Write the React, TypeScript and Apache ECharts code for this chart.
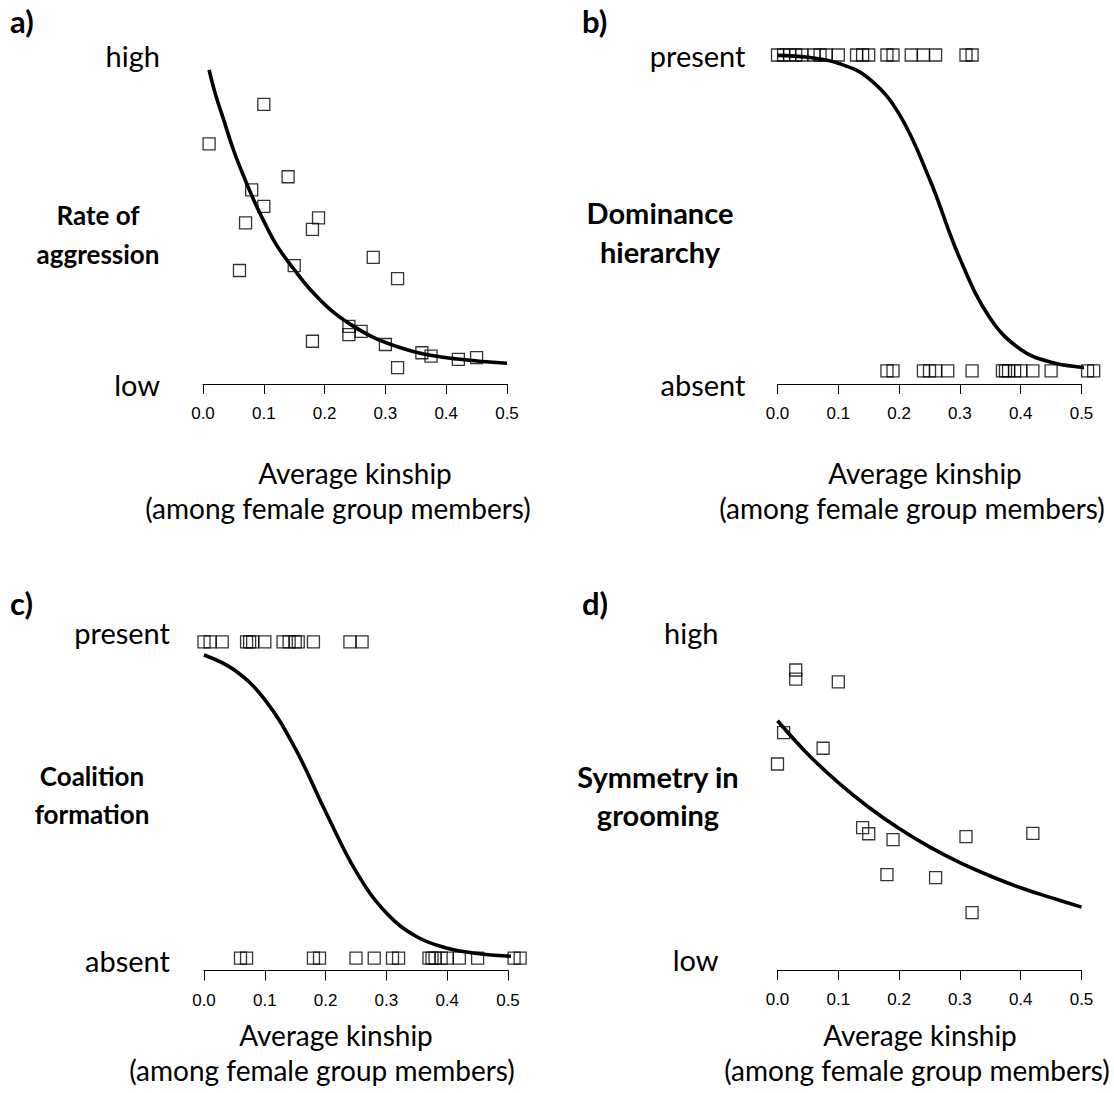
import React, { useEffect, useRef } from "react";
import * as echarts from "echarts";

// ---------- Panel a: rate of aggression ----------
const aKinship = [0.01, 0.10, 0.08, 0.10, 0.14, 0.07, 0.19, 0.18, 0.06, 0.15, 0.28, 0.32, 0.18, 0.24, 0.24, 0.26, 0.30, 0.32, 0.36, 0.375, 0.42, 0.45];
const aAggression = [0.73, 0.85, 0.59, 0.54, 0.63, 0.49, 0.505, 0.47, 0.345, 0.36, 0.385, 0.32, 0.13, 0.175, 0.15, 0.16, 0.12, 0.05, 0.095, 0.085, 0.075, 0.08];
const aFitX = [0.01, 0.02, 0.034, 0.05, 0.067, 0.083, 0.10, 0.122, 0.15, 0.176, 0.209, 0.242, 0.281, 0.319, 0.363, 0.418, 0.50];
const aFitY = [0.955, 0.884, 0.803, 0.712, 0.631, 0.561, 0.495, 0.419, 0.348, 0.288, 0.227, 0.182, 0.141, 0.114, 0.091, 0.076, 0.063];

// ---------- Panel b: dominance hierarchy ----------
const bPresent = [0.0, 0.01, 0.02, 0.03, 0.04, 0.06, 0.07, 0.08, 0.10, 0.13, 0.14, 0.15, 0.18, 0.19, 0.22, 0.24, 0.26, 0.31, 0.32];
const bAbsent = [0.18, 0.19, 0.24, 0.25, 0.26, 0.28, 0.32, 0.37, 0.375, 0.38, 0.39, 0.40, 0.42, 0.45, 0.51, 0.52];
const bFitX = [0, 0.05, 0.10, 0.15, 0.20, 0.25, 0.30, 0.35, 0.40, 0.45, 0.50, 0.545];
const bFitY = [0.999, 0.993, 0.975, 0.929, 0.821, 0.623, 0.381, 0.199, 0.105, 0.066, 0.051, 0.046];

// ---------- Panel c: coalition formation ----------
const cPresent = [0.0, 0.01, 0.03, 0.07, 0.075, 0.08, 0.10, 0.13, 0.14, 0.15, 0.155, 0.18, 0.24, 0.26];
const cAbsent = [0.06, 0.07, 0.18, 0.19, 0.25, 0.28, 0.31, 0.32, 0.37, 0.375, 0.38, 0.39, 0.40, 0.42, 0.45, 0.51, 0.52];
const cFitX = [0, 0.05, 0.10, 0.15, 0.20, 0.25, 0.30, 0.35, 0.40, 0.45, 0.50, 0.55];
const cFitY = [0.930, 0.884, 0.794, 0.645, 0.452, 0.270, 0.143, 0.071, 0.036, 0.020, 0.012, 0.009];

// ---------- Panel d: symmetry in grooming ----------
const dKinship = [0.03, 0.03, 0.10, 0.01, 0.075, 0.0, 0.14, 0.15, 0.19, 0.31, 0.42, 0.18, 0.26, 0.32];
const dSymmetry = [0.884, 0.856, 0.848, 0.693, 0.645, 0.597, 0.403, 0.384, 0.366, 0.375, 0.385, 0.259, 0.25, 0.143];
const dFitX = [0, 0.05, 0.10, 0.15, 0.20, 0.25, 0.30, 0.35, 0.40, 0.45, 0.50];
const dFitY = [0.729, 0.627, 0.540, 0.465, 0.400, 0.344, 0.296, 0.255, 0.219, 0.189, 0.160];

const xTicks = [0, 0.1, 0.2, 0.3, 0.4, 0.5];
const xTitle1 = "Average kinship";
const xTitle2 = "(among female group members)";

const zip = (xs: number[], ys: number[]) => xs.map((x, i) => [x, ys[i]]);
const flat = (xs: number[], y: number) => xs.map((x) => [x, y]);

const FONT = "Lato";
const TICK_FONT = "Liberation Sans";

export default function App() {
  const ref = useRef<HTMLDivElement>(null);

  useEffect(() => {
    if (!ref.current) return;
    const chart = echarts.init(ref.current, undefined, { renderer: "svg" });

    const grids = [
      { left: 203, top: 55, width: 304, height: 329 },
      { left: 777.5, top: 55, width: 304, height: 329 },
      { left: 204, top: 632, width: 304, height: 338.5 },
      { left: 777.5, top: 632, width: 304, height: 338 },
    ];
    const yMins = [0, 0, -0.032, -0.032];
    const yLabels = [
      ["low", "high"],
      ["absent", "present"],
      ["absent", "present"],
      ["low", "high"],
    ];
    const yMargins = [43, 32, 34, 59];

    const xAxis = grids.map((_, i) => ({
      gridIndex: i,
      type: "value",
      min: xTicks[0],
      max: xTicks[xTicks.length - 1],
      interval: 0.1,
      axisLine: { onZero: false, lineStyle: { color: "#000", width: 1 } },
      axisTick: { length: 10, lineStyle: { color: "#000", width: 1 } },
      axisLabel: {
        formatter: (v: number) => v.toFixed(1),
        color: "#000",
        fontSize: 17,
        fontFamily: TICK_FONT,
        margin: 21,
      },
      splitLine: { show: false },
    }));

    const yAxis = grids.map((_, i) => ({
      gridIndex: i,
      type: "value",
      min: yMins[i],
      max: 1,
      axisLine: { show: false },
      axisTick: { show: false },
      splitLine: { show: false },
      axisLabel: {
        customValues: [0, 1],
        formatter: (v: number) => (v > 0.5 ? yLabels[i][1] : yLabels[i][0]),
        color: "#000",
        fontSize: 29,
        fontFamily: FONT,
        margin: yMargins[i],
      },
    }));

    const pointStyle = {
      symbol: "rect",
      symbolSize: 12,
      itemStyle: { color: "rgba(0,0,0,0)", borderColor: "#000", borderWidth: 1.3 },
      clip: false,
      silent: true,
    };
    const lineStyleBase = {
      type: "line",
      smooth: 0.4,
      showSymbol: false,
      symbol: "none",
      clip: false,
      silent: true,
      lineStyle: { color: "#000", width: 3.6 },
    };

    const series: any[] = [
      { type: "scatter", xAxisIndex: 0, yAxisIndex: 0, data: zip(aKinship, aAggression), ...pointStyle },
      { ...lineStyleBase, xAxisIndex: 0, yAxisIndex: 0, data: zip(aFitX, aFitY) },
      { type: "scatter", xAxisIndex: 1, yAxisIndex: 1, data: flat(bPresent, 1.0), ...pointStyle },
      { type: "scatter", xAxisIndex: 1, yAxisIndex: 1, data: flat(bAbsent, 0.04), ...pointStyle },
      { ...lineStyleBase, xAxisIndex: 1, yAxisIndex: 1, data: zip(bFitX, bFitY) },
      { type: "scatter", xAxisIndex: 2, yAxisIndex: 2, data: flat(cPresent, 0.97), ...pointStyle },
      { type: "scatter", xAxisIndex: 2, yAxisIndex: 2, data: flat(cAbsent, 0.006), ...pointStyle },
      { ...lineStyleBase, xAxisIndex: 2, yAxisIndex: 2, data: zip(cFitX, cFitY) },
      { type: "scatter", xAxisIndex: 3, yAxisIndex: 3, data: zip(dKinship, dSymmetry), ...pointStyle },
      { ...lineStyleBase, xAxisIndex: 3, yAxisIndex: 3, data: zip(dFitX, dFitY) },
    ];

    const txt = (text: string, x: number, y: number, font: string, align = "center", lineHeight?: number) => ({
      type: "text",
      x,
      y,
      silent: true,
      style: { text, font, fill: "#000", align, verticalAlign: "middle", lineHeight },
    });

    const boldL = `bold 26px ${FONT}`;
    const boldR = `bold 29px ${FONT}`;
    const letter = `bold 31px ${FONT}`;
    const reg = `28px ${FONT}`;

    const graphic = [
      txt("a)", 10, 21, letter, "left"),
      txt("b)", 582, 21, letter, "left"),
      txt("c)", 10, 603, letter, "left"),
      txt("d)", 582, 603, letter, "left"),
      txt("Rate of\naggression", 98, 234.5, boldL, "center", 39),
      txt("Dominance\nhierarchy", 660, 231.5, boldR, "center", 39),
      txt("Coalition\nformation", 92, 795, boldL, "center", 38),
      txt("Symmetry in\ngrooming", 658, 795, boldR, "center", 38),
      txt(xTitle1, 355, 473, reg),
      txt(xTitle2, 338, 508, reg),
      txt(xTitle1, 925, 473, reg),
      txt(xTitle2, 912, 508, reg),
      txt(xTitle1, 336, 1035, reg),
      txt(xTitle2, 322, 1070, reg),
      txt(xTitle1, 920, 1035, reg),
      txt(xTitle2, 917, 1070, reg),
    ];

    chart.setOption({
      animation: false,
      backgroundColor: "#fff",
      grid: grids,
      xAxis,
      yAxis,
      series,
      graphic,
    });

    return () => chart.dispose();
  }, []);

  return (
    <div
      ref={ref}
      style={{ position: "fixed", left: 0, top: 0, width: 1114, height: 1093, background: "#fff" }}
    />
  );
}
